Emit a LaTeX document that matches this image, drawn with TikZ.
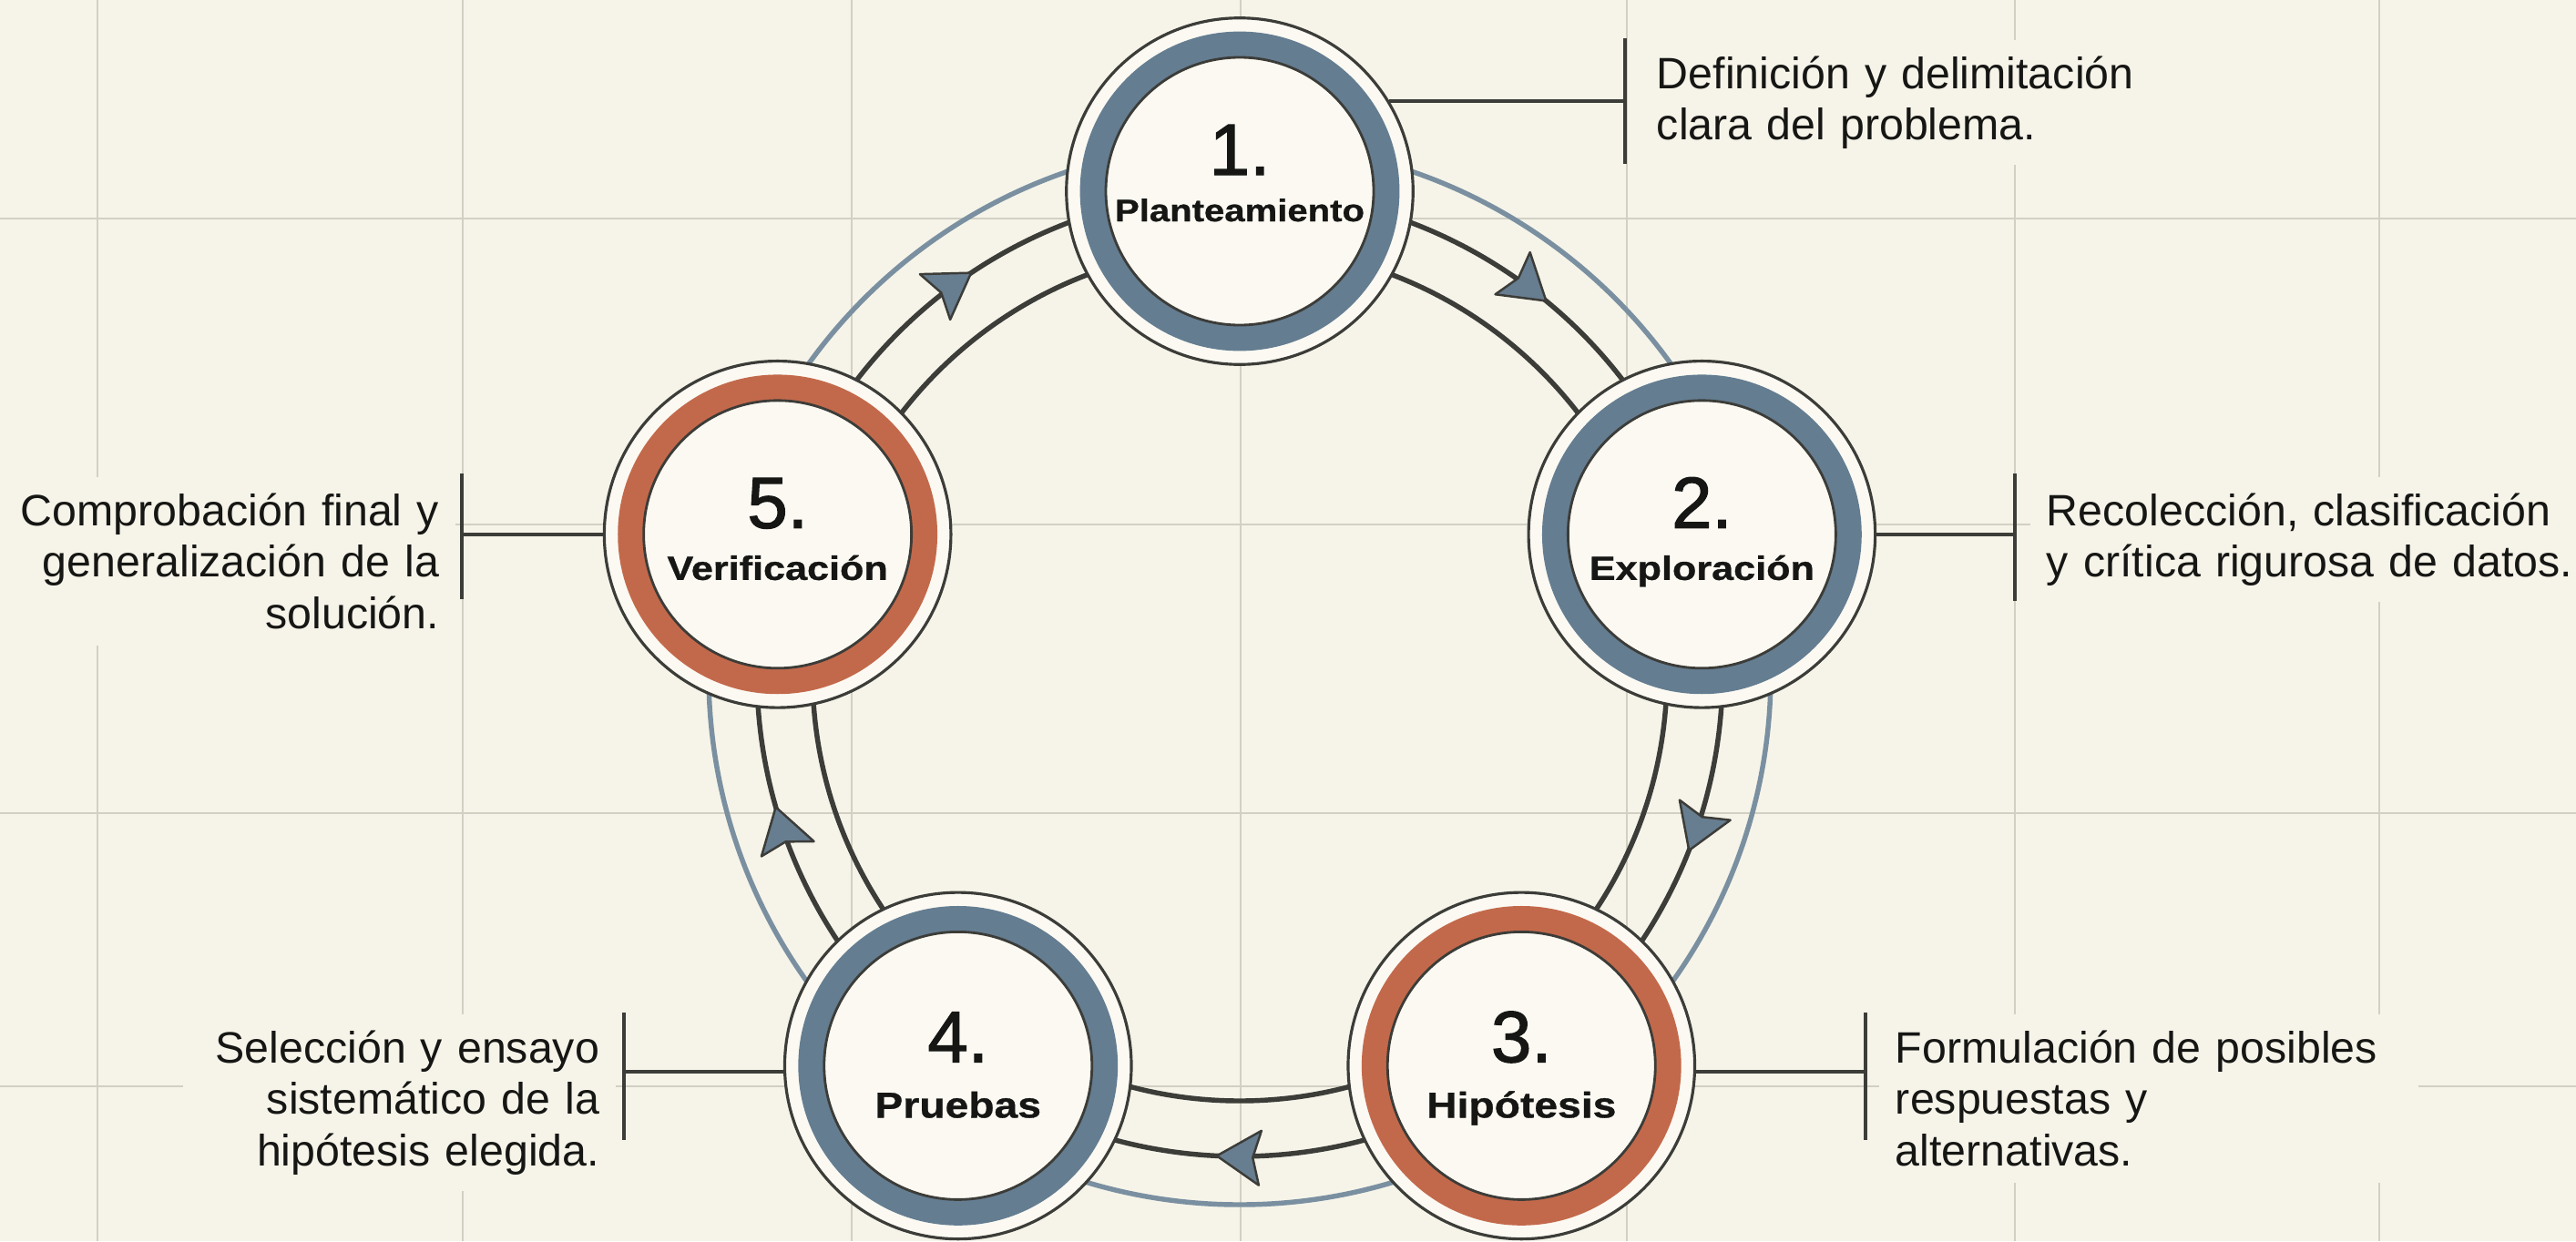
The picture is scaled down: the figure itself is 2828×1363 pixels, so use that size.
\documentclass[tikz,border=0pt]{standalone}
\usepackage{fontspec}
\setmainfont{Liberation Sans}
\newfontfamily\lblfont{Liberation Sans}[FakeStretch=1.17, FakeBold=0.8]
\newfontfamily\numfont{Liberation Sans}[FakeBold=1.6]
\usetikzlibrary{arrows.meta,decorations.markings,calc}

\definecolor{bg}{HTML}{F6F4E9}
\definecolor{nodefill}{HTML}{FBF9F2}
\definecolor{gridc}{HTML}{D2D0C3}
\definecolor{darkline}{HTML}{3C3C38}
\definecolor{ringblue}{HTML}{647D91}
\definecolor{ringorange}{HTML}{C3694B}
\definecolor{trackblue}{HTML}{7A90A1}
\definecolor{arrowfill}{HTML}{677D90}
\definecolor{textc}{HTML}{161614}

\begin{document}
\begin{tikzpicture}[x=0.02cm,y=-0.02cm,
  gridline/.style={gridc, line width=1.1pt},
  track/.style={darkline, line width=3.1pt},
  trackout/.style={trackblue, line width=3.1pt},
  stage/.style={circle, draw=darkline, line width=1.8pt, fill=nodefill, minimum size=216.6pt, inner sep=0pt},
  ringb/.style={ringblue, line width=16.4pt},
  ringo/.style={ringorange, line width=16.4pt},
  ringedge/.style={darkline, line width=1.6pt},
  num/.style={anchor=base, font=\numfont\fontsize{45.4}{50}\selectfont, text=textc, inner sep=0pt},
  lbl/.style={anchor=base, text=textc, inner sep=0pt},
  desc/.style={font=\fontsize{27.5}{32.3}\selectfont, text=textc, fill=bg, inner sep=10pt},
  conn/.style={darkline, line width=2.3pt},
  flow/.style={track, postaction={decorate}, decoration={markings, mark=at position 0.54 with {\arrow{Stealth[length=29.5pt, width=37pt, inset=5pt, round, fill=arrowfill, line width=1.4pt]}}}}
]
\useasboundingbox (0,0) rectangle (2828,1363);
\fill[bg] (0,0) rectangle (2828,1363);

% grid
\foreach \x in {107,508,935,1362,1786,2212,2612} \draw[gridline] (\x,0) -- (\x,1363);
\foreach \y in {240,576,893,1193} \draw[gridline] (0,\y) -- (2828,\y);

% descriptions
\node[desc, text width=317pt, align=left, anchor=base west] (d1) at (1801,97) {Definición y delimitación\\clara del problema.};
\node[desc, text width=340pt, align=left, anchor=base west] (d2) at (2229,577) {Recolección, clasificación\\y crítica rigurosa de datos.};
\node[desc, text width=317pt, align=left, anchor=base west] (d3) at (2063,1167) {Formulación de posibles\\respuestas y\\alternativas.};
\node[desc, text width=250pt, align=right, anchor=base east] (d4) at (676,1167) {Selección y ensayo\\sistemático de la\\hipótesis elegida.};
\node[desc, text width=278pt, align=right, anchor=base east] (d5) at (500,577) {Comprobación final y\\generalización de la\\solución.};

% cycle centre
\coordinate (c) at (1361,740);
\coordinate (p1) at ($(c)+(-90:530)$);
\coordinate (p2) at ($(c)+(-16.8:530)$);
\coordinate (p3) at ($(c)+(54.3:530)$);
\coordinate (p4) at ($(c)+(125.7:530)$);
\coordinate (p5) at ($(c)+(196.8:530)$);

% tracks
\draw[trackout] (c) circle[radius=583];
\draw[track] (c) circle[radius=469];
\draw[flow] (p1) arc[start angle=-90, end angle=-16.8, radius=530];
\draw[flow] (p2) arc[start angle=-16.8, end angle=54.3, radius=530];
\draw[flow] (p3) arc[start angle=54.3, end angle=125.7, radius=530];
\draw[flow] (p4) arc[start angle=125.7, end angle=196.8, radius=530];
\draw[flow] (p5) arc[start angle=196.8, end angle=270, radius=530];

% stages
\node[stage] (n1) at (p1) {};
\node[stage] (n2) at (p2) {};
\node[stage] (n3) at (p3) {};
\node[stage] (n4) at (p4) {};
\node[stage] (n5) at (p5) {};

\draw[ringb] (n1) circle[radius=161];
\draw[ringb] (n2) circle[radius=161];
\draw[ringo] (n3) circle[radius=161];
\draw[ringb] (n4) circle[radius=161];
\draw[ringo] (n5) circle[radius=161];
\foreach \n in {n1,n2,n3,n4,n5} \draw[ringedge] (\n) circle[radius=147];

\node[num] (t1) at ($(n1)+(0,-18)$) {1.};
\node[num] (t2) at ($(n2)+(0,-7)$) {2.};
\node[num] (t3) at ($(n3)+(0,-4)$) {3.};
\node[num] (t4) at ($(n4)+(0,-4)$) {4.};
\node[num] (t5) at ($(n5)+(0,-7)$) {5.};

\node[lbl, font=\lblfont\bfseries\fontsize{19.5}{22}\selectfont] (l1) at ($(n1)+(0,33)$) {Planteamiento};
\node[lbl, font=\lblfont\bfseries\fontsize{21}{24}\selectfont] (l2) at ($(n2)+(0,50)$) {Exploración};
\node[lbl, font=\lblfont\bfseries\fontsize{22.5}{25}\selectfont] (l3) at ($(n3)+(0,57)$) {Hipótesis};
\node[lbl, font=\lblfont\bfseries\fontsize{22.5}{25}\selectfont] (l4) at ($(n4)+(0,57)$) {Pruebas};
\node[lbl, font=\lblfont\bfseries\fontsize{21}{24}\selectfont] (l5) at ($(n5)+(0,50)$) {Verificación};

% brackets and connectors
\coordinate (b1a) at (1784,42);  \coordinate (b1b) at (1784,180);
\coordinate (b2a) at (2212,520); \coordinate (b2b) at (2212,660);
\coordinate (b3a) at (2048,1112); \coordinate (b3b) at (2048,1252);
\coordinate (b4a) at (685,1112); \coordinate (b4b) at (685,1252);
\coordinate (b5a) at (507,520); \coordinate (b5b) at (507,658);
\draw[conn] (b1a) -- (b1b);
\draw[conn] (b2a) -- (b2b);
\draw[conn] (b3a) -- (b3b);
\draw[conn] (b4a) -- (b4b);
\draw[conn] (b5a) -- (b5b);
\draw[conn] (n1.31) -- (n1.31 -| b1a);
\draw[conn] (n2.east) -- (n2.east -| b2a);
\draw[conn] (n3.-2) -- (n3.-2 -| b3a);
\draw[conn] (n4.182) -- (n4.182 -| b4a);
\draw[conn] (n5.west) -- (n5.west -| b5a);
\end{tikzpicture}
\end{document}
